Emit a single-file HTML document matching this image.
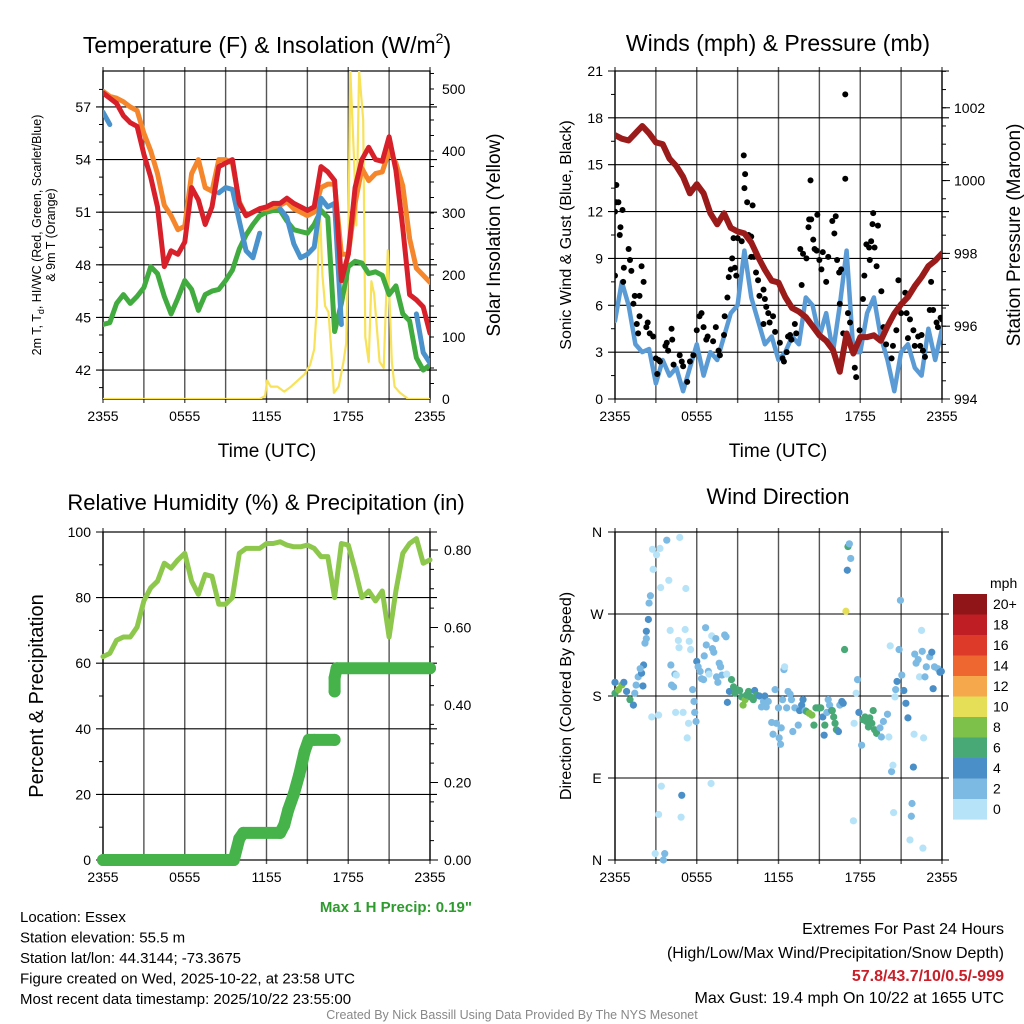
<!DOCTYPE html>
<html><head><meta charset="utf-8"><title>Essex Mesonet Meteogram</title>
<style>
html,body{margin:0;padding:0;background:#fff;}
svg{display:block;font-family:"Liberation Sans",Arial,sans-serif;}
</style></head>
<body>
<svg id="chart" width="1024" height="1024" viewBox="0 0 1024 1024" xmlns="http://www.w3.org/2000/svg">
<defs>
<clipPath id="c1"><rect x="103" y="71" width="327" height="328"/></clipPath>
<clipPath id="c2"><rect x="615" y="71" width="327" height="328"/></clipPath>
<clipPath id="c3"><rect x="97" y="526" width="340" height="340"/></clipPath>
<clipPath id="c4"><rect x="611" y="528" width="335" height="336"/></clipPath>
</defs>
</svg>
<script>
// ---------- Temperature panel data (half-hourly, hours since 2355 UTC) ----------
const tempHours = [0,0.5,1,1.5,2,2.5,3,3.5,4,4.5,5,5.5,6,6.5,7,7.5,8,8.5,9,9.5,10,10.5,11,11.5,12,12.5,13,13.5,14,14.5,15,15.5,16,16.5,17,17.5,18,18.5,19,19.5,20,20.5,21,21.5,22,22.5,23,23.5,24];
const tempT = [57.8,57.5,57.2,56.5,56.1,55.9,54.3,53,51.3,47.9,48.8,48.6,49.3,52.4,51.7,50.3,51.3,53.6,53.8,54,51.5,50.8,51,51.2,51.3,51.5,51.5,51.8,51.5,51.3,51.1,51.3,53.6,53.3,52.8,47.1,48.6,52.4,54,54.7,54,53.9,55.3,53.4,50.1,46.3,46,45.6,44.1];
const temp9m = [57.9,57.6,57.5,57.3,57,56.8,55.5,54.5,53.2,51.4,50.8,50,50.2,53.2,54,52.4,52.2,54,54,53.8,51.6,50.8,51,51.2,51.2,51.3,51.4,51.6,51.2,51,50.8,51,52.4,52.6,52.6,48.6,48.6,51.5,53.5,52.8,53.2,53.3,54.5,53.8,52.5,49.5,47.8,47.4,47];
const tempTd = [44.6,44.7,45.8,46.3,45.8,46.2,46.7,47.9,47.5,46.2,45.2,46.1,47.1,46.6,45.4,46.3,46.5,46.6,47.1,47.7,48.9,49.7,50.3,50.8,51,51.1,51.1,50.5,50,49.9,49.8,50.3,51.1,50.7,44.2,45.8,47.9,48.2,48.1,47.5,47.6,47.4,46.3,46.8,45.2,44.8,42.7,42,42.3];
const tempHIWC = [56.7,56.0,null,null,null,null,null,null,null,null,null,null,null,null,null,null,null,52.1,52.4,52.3,50.5,48.8,48.4,49.8,null,null,51.2,50.7,49.2,48.4,48.6,49,51.8,51.3,51.5,44.6,null,null,null,null,null,null,null,null,null,null,45.2,43.0,42.4];
const solarHours = [0,11.5,11.9,12.05,12.3,12.8,13.3,13.8,14.3,14.8,15.2,15.5,15.7,15.9,16.1,16.3,16.55,16.75,16.95,17.3,17.65,17.85,18.0,18.15,18.4,18.6,18.8,19.1,19.25,19.5,19.7,19.9,20.3,20.6,20.9,21.2,21.4,21.8,22.4,24];
const solarVals = [0,0,5,30,20,20,12,20,30,40,55,80,150,320,200,150,140,80,10,20,60,90,250,530,400,280,530,450,100,60,190,170,60,50,240,60,20,10,0,0];
const tempTicks = [42,45,48,51,54,57];
const solarTicks = [0,100,200,300,400,500];
const timeTickLabels = ["2355","0555","1155","1755","2355"];
const timeTickHours = [0,6,12,18,24];

// ---------- Wind / pressure panel data ----------
const windHours = tempHours;
const windSpeed = [5,7.5,6,3.5,3,3.2,1,2.5,1.5,2,0.5,2,3.5,1.5,3,2.5,4,5.5,6,9.5,6.5,5,3.5,4,2.5,3,4,3.5,6.5,6,4,5.5,3,6,9.5,3,3,5.5,6.5,4,2.5,0.5,3,3.5,2,1.5,4.5,2.5,4.5];
const pressure = [1001.25,1001.15,1001.1,1001.3,1001.5,1001.3,1001.05,1001,1000.6,1000.4,1000.1,999.65,999.9,999.65,999.1,998.8,999.1,998.7,998.6,998.55,998.3,997.9,997.55,997.25,997.2,996.8,996.5,996.4,996.25,996,995.75,995.6,995.35,994.75,995.8,995.25,995.7,995.7,995.75,995.6,996,996.35,996.6,996.8,997.1,997.35,997.65,997.8,998];
const gustHours = [0,0,0.1,0.1,0.25,0.35,0.4,0.55,0.65,0.6,1.0,1.1,1.2,1.45,1.35,1.8,1.95,2.1,1.8,1.6,1.7,2.4,2.3,2.55,2.8,3.0,3.2,3.1,3.3,3.7,3.8,3.9,4.15,4.2,4.3,4.75,4.9,5.0,5.3,5.5,5.75,6.0,6.2,6.35,6.5,6.7,6.8,7.2,7.4,7.6,7.7,8.0,8.05,8.25,8.35,8.5,8.6,8.8,8.9,8.7,9.0,9.3,9.45,9.55,9.5,9.7,10.1,9.8,10.0,10.0,10.2,10.35,10.5,10.6,10.9,11.0,11.1,11.25,11.35,11.6,10.9,11.75,12.1,12.3,12.4,12.6,12.7,12.85,12.95,13.2,13.3,13.6,13.7,13.8,14.05,14.2,14.25,14.35,14.4,14.55,14.65,14.85,14.8,15.0,15.15,15.25,15.5,15.65,15.95,16.1,16.2,16.3,16.45,16.6,16.5,16.9,16.9,16.75,17.1,17.25,17.6,17.7,17.95,18.2,18.3,18.45,18.65,18.7,18.8,18.95,18.9,19.05,19.3,19.2,19.55,19.7,19.9,20.3,20.4,20.65,20.8,21.0,21.3,21.4,21.65,21.5,21.9,22.0,22.25,22.5,22.4,22.6,22.75,23.1,23.2,23.35,23.6,23.7,23.9,24.0];
const gustVals = [7.9,12,13.7,12.6,12.6,10.5,11,12.1,8.4,7.5,9.6,8.9,8.2,6.6,6.1,6.6,8.5,7.5,5.3,4.8,4.2,4.9,4.6,4.2,4.0,2.6,2.5,1.6,2.4,3.4,3.6,3.1,4.5,3.8,2.2,2.8,2.4,2.1,1.1,2.4,2.8,4.4,5.3,5.5,4.6,3.8,4.0,3.7,4.6,3.1,2.8,4.1,5.3,6.5,7.8,8.3,9.0,8.4,7.9,10.3,10.3,10.1,15.6,14.4,13.5,12.6,12.4,10.5,10.4,9.1,9.1,8.1,7.6,6.6,7.0,6.4,5.9,5.5,4.9,5.3,4.8,4.3,3.6,2.6,2.4,3.0,4.0,4.1,3.8,4.8,4.2,9.6,7.3,9.3,9.0,11.0,11.5,14.0,11.5,10.2,9.6,11.8,9.5,8.9,8.3,9.4,7.5,9.1,11.4,10.6,11.7,8.9,8.1,8.3,6.1,19.5,14.1,4.2,5.5,4.9,2.0,1.4,4.4,6.4,7.9,9.9,9.7,8.9,10.1,11.9,11.2,9.7,11.1,8.5,6.9,4.6,3.5,2.6,3.4,4.4,7.6,5.5,6.8,5.5,5.1,3.9,4.4,3.4,4.0,4.1,3.4,3.1,2.7,5.7,7.5,5.7,4.9,4.6,5.2,5.1];
const windTicks = [0,3,6,9,12,15,18,21];
const pressTicks = [994,996,998,1000,1002];

// ---------- RH / precip data ----------
const rhHours = tempHours;
const rhVals = [62,63,67,68,68,71,79,83,85,90.5,89,91.5,93.5,85,81,87,86.5,78,78,80,93.5,95,95,95,96.5,96.5,97,96,95.5,95.5,96,95,92.5,92.5,80,96.5,96,88.5,80,82,79,82,68,82,93.5,96.5,98,90.5,91.5];
const precipHours = [0,9.6,10.0,10.3,13.0,13.3,13.6,14.0,14.4,14.8,15.1,15.5,17.0,null,17.0,17.0,17.15,24];
const precipVals = [0,0,0.055,0.07,0.07,0.09,0.13,0.17,0.22,0.28,0.31,0.31,0.31,null,0.435,0.47,0.495,0.495];
const rhTicks = [0,20,40,60,80,100];
const precipTicks = ["0.00","0.20","0.40","0.60","0.80"];

// ---------- Wind direction data ----------
const dirHours = [0,0,0.25,0.5,0.65,0.85,1.1,1.35,1.45,1.55,1.7,1.95,2.1,2.05,1.85,2.2,2.3,2.3,2.45,2.5,2.6,2.7,2.8,2.75,3.05,3.3,3.2,3.35,3.4,3.2,2.95,3.55,3.65,3.8,3.95,4.05,4.1,4.15,4.3,4.4,4.5,4.45,4.65,4.7,4.75,4.9,4.85,5.0,5.15,5.2,5.3,5.4,5.45,5.55,5.7,5.8,5.85,5.95,6.0,6.1,6.25,6.35,6.5,6.55,6.65,6.7,6.85,6.9,7.05,7.1,7.15,7.25,7.4,7.45,7.55,7.65,7.75,7.85,8.05,8.15,8.2,8.25,8.4,8.55,8.7,8.8,8.95,9.15,9.3,9.4,9.55,9.65,9.8,9.95,10.15,10.25,10.4,10.6,10.75,10.9,11.0,11.1,11.25,11.5,11.6,11.75,11.85,12.0,12.05,12.15,12.2,12.3,12.4,12.45,12.6,12.7,12.85,12.95,13.05,13.2,13.45,13.55,13.7,13.8,13.95,14.05,14.25,14.45,14.6,14.75,14.9,15.1,15.25,15.35,15.4,15.55,15.65,15.75,15.9,15.95,16.05,16.15,16.25,16.4,16.5,16.65,16.75,16.85,16.95,17.05,17.1,17.2,17.3,17.5,17.55,17.7,17.8,17.9,18.1,18.2,18.35,18.45,18.6,18.7,18.85,18.95,19.05,19.2,19.45,19.55,19.7,20.0,20.1,20.2,20.3,20.4,20.45,20.55,20.6,20.7,20.85,20.95,21.05,21.2,21.35,21.5,21.65,21.75,21.8,21.9,21.95,22.0,22.1,22.25,22.35,22.5,22.55,22.6,22.65,22.75,22.85,23.1,23.25,23.35,23.45,23.7,23.85,23.95];
const dirDeg = [195,183,187,192,195,185,176,170,183,192,201,205,214,191,210,238,251,243,264,282,290,157,319,341,335,342,159,299,81,50,7,0,7,351,307,252,214,192,190,204,203,162,241,233,354,71,47,162,253,298,134,150,240,231,187,174,162,152,218,212,207,199,198,224,255,236,207,204,84,246,232,228,243,201,195,216,212,203,247,245,204,173,185,198,190,183,187,186,179,170,176,181,185,179,176,186,181,180,168,174,180,168,174,151,138,187,150,167,134,127,145,176,209,212,167,185,182,176,141,167,148,164,170,176,164,163,161,159,148,167,167,167,157,137,148,162,176,170,164,164,157,150,143,141,170,174,172,231,273,318,344,347,331,43,150,183,198,162,126,154,157,152,146,156,150,164,143,139,145,135,152,160,135,235,97,104,52,179,187,196,231,285,203,186,172,156,22,48,62,102,138,226,216,220,201,252,229,13,134,201,212,223,228,188,212,210,206,207];
const dirSpeed = [5,7,9,9,5,5,7,5,3,3,3,5,5,5,3,3,5,3,5,3,3,1,1,1,1,1,1,1,1,1,1,3,3,3,1,1,3,3,3,3,1,1,1,1,1,5,1,1,1,1,1,1,1,1,3,3,3,3,5,3,3,3,3,3,3,3,3,1,1,1,3,3,3,3,3,3,3,3,3,3,1,5,5,7,7,7,7,7,7,9,9,7,7,7,7,5,7,5,3,3,5,3,3,3,3,3,3,3,3,3,3,3,3,1,3,3,3,3,3,3,3,5,5,5,3,7,9,9,7,7,7,7,5,5,7,3,3,3,5,7,7,7,7,5,3,5,5,7,11,5,7,3,3,1,1,1,3,5,3,7,7,7,7,7,7,7,7,7,3,3,3,3,1,1,3,1,1,1,3,5,3,3,3,5,5,5,1,3,3,5,1,3,3,3,1,1,3,1,1,3,3,3,5,5,3,3,5,5];
const dirTickLabels = ["N","E","S","W","N"];
const dirTickDeg = [0,90,180,270,360];
const speedBinLabels = ["20+","18","16","14","12","10","8","6","4","2","0"];
const speedBinColors = ["#8f1518","#be1e24","#dd3a2a","#ee6630","#f5a94c","#e5df58","#7dc14a","#48a876","#4a8fc7","#7cb9e3","#b7e3f8"];

// ---------- helpers ----------
const NS = "http://www.w3.org/2000/svg";
const svg = document.getElementById("chart");
function el(tag, attrs, parent) {
  const e = document.createElementNS(NS, tag);
  for (const k in attrs) e.setAttribute(k, attrs[k]);
  (parent || svg).appendChild(e);
  return e;
}
function txt(s, x, y, size, anchor, parent, extra) {
  const t = el("text", Object.assign({x: x, y: y, "font-size": size, "text-anchor": anchor || "middle", fill: "#000"}, extra || {}), parent);
  t.textContent = s;
  return t;
}
function lin(d0, d1, p0, p1) { return v => p0 + (v - d0) / (d1 - d0) * (p1 - p0); }
function pathFrom(xs, ys, fx, fy) {
  let d = "", pen = false;
  for (let i = 0; i < xs.length; i++) {
    if (xs[i] === null || ys[i] === null) { pen = false; continue; }
    d += (pen ? "L" : "M") + fx(xs[i]).toFixed(1) + "," + fy(ys[i]).toFixed(1);
    pen = true;
  }
  return d;
}
function grid(g, P, hLines, fy) {
  for (let k = 0; k <= 8; k++) {
    const x = P.x0 + k * (P.x1 - P.x0) / 8;
    el("line", {x1: x, y1: P.y0 - 4, x2: x, y2: P.y1 + 4, stroke: "#555", "stroke-width": 1.4}, g);
  }
  hLines.forEach(v => {
    const y = fy(v);
    el("line", {x1: P.x0 - 7, y1: y, x2: P.x1 + 7, y2: y, stroke: "#000", "stroke-width": 1.1}, g);
  });
  el("rect", {x: P.x0, y: P.y0, width: P.x1 - P.x0, height: P.y1 - P.y0, fill: "none", stroke: "#000", "stroke-width": 1.2}, g);
}
function timeAxis(g, P, fx) {
  timeTickHours.forEach((h, i) => {
    const lab = txt(timeTickLabels[i], fx(h), P.y1 + 22, 14, "middle", g);
    
    
  });
}

// ================= Panel 1: Temperature =================
const P1 = {x0: 103, x1: 430, y0: 71, y1: 399};
const fx1 = lin(0, 24, P1.x0, P1.x1);
const fyT = lin(40.35, 59.05, P1.y1, P1.y0);
const fyS = lin(0, 529, P1.y1, P1.y0);
const g1 = el("g", {});


grid(g1, P1, tempTicks, fyT);
for (let v = 41; v <= 58; v++) {
  const m = el("line", {x1: P1.x0 - 4, y1: fyT(v), x2: P1.x0, y2: fyT(v), stroke: "#000"}, g1);
  
  
}
for (let v = 25; v <= 525; v += 25) {
  el("line", {x1: P1.x1, y1: fyS(v), x2: P1.x1 + 4, y2: fyS(v), stroke: "#000"}, g1);
}
tempTicks.forEach(v => { const t = txt(String(v), P1.x0 - 12, fyT(v) + 5, 14, "end", g1);   });
solarTicks.forEach(v => { const t = txt(String(v), P1.x1 + 12, fyS(v) + 5, 14, "start", g1);   });
timeAxis(g1, P1, fx1);
const s1 = el("g", {"clip-path": "url(#c1)"}, g1);
const solarLine = el("path", {d: pathFrom(solarHours, solarVals, fx1, fyS), fill: "none", stroke: "#f7e25a", "stroke-width": 2.2, "stroke-linejoin": "round"}, s1);


const lineStyle = {fill: "none", "stroke-width": 5, "stroke-linejoin": "round", "stroke-linecap": "round"};
const tdLine = el("path", Object.assign({d: pathFrom(tempHours, tempTd, fx1, fyT), stroke: "#41ab3f"}, lineStyle), s1);


const t9Line = el("path", Object.assign({d: pathFrom(tempHours, temp9m, fx1, fyT), stroke: "#f5862c"}, lineStyle), s1);


const hiLine = el("path", Object.assign({d: pathFrom(tempHours, tempHIWC, fx1, fyT), stroke: "#4a92cc"}, lineStyle), s1);


const tLine = el("path", Object.assign({d: pathFrom(tempHours, tempT, fx1, fyT), stroke: "#d7202a"}, lineStyle), s1);


const ti1 = el("text", {x: 267, y: 53, "font-size": 23, "text-anchor": "middle"}, g1);
ti1.innerHTML = 'Temperature (F) &amp; Insolation (W/m<tspan font-size="14" dy="-10">2</tspan><tspan dy="10">)</tspan>';


const xl1 = txt("Time (UTC)", 267, 457, 19, "middle", g1);


const yl1 = el("text", {x: 0, y: 0, "font-size": 12.5, "text-anchor": "middle", transform: "translate(41,235) rotate(-90)"}, g1);
yl1.innerHTML = '2m T, T<tspan font-size="9" dy="3">d</tspan><tspan dy="-3">, HI/WC (Red, Green, Scarlet/Blue)</tspan>';


const yl1b = txt("& 9m T (Orange)", 0, 0, 12.5, "middle", g1, {transform: "translate(55,235) rotate(-90)"});


const yr1 = txt("Solar Insolation (Yellow)", 0, 0, 19, "middle", g1, {transform: "translate(500,235) rotate(-90)"});



// ================= Panel 2: Winds & Pressure =================
const P2 = {x0: 615, x1: 942, y0: 71, y1: 399};
const fx2 = lin(0, 24, P2.x0, P2.x1);
const fyW = lin(0, 21, P2.y1, P2.y0);
const fyP = lin(994, 1003.01, P2.y1, P2.y0);
const g2 = el("g", {});


grid(g2, P2, windTicks, fyW);
for (let v = 1.5; v < 21; v += 3) el("line", {x1: P2.x0 - 4, y1: fyW(v), x2: P2.x0, y2: fyW(v), stroke: "#000"}, g2);
for (let v = 994.5; v <= 1003; v += 0.5) el("line", {x1: P2.x1, y1: fyP(v), x2: P2.x1 + 4, y2: fyP(v), stroke: "#000"}, g2);
pressTicks.forEach(v => el("line", {x1: P2.x1, y1: fyP(v), x2: P2.x1 + 8, y2: fyP(v), stroke: "#000"}, g2));
windTicks.forEach(v => { const t = txt(String(v), P2.x0 - 12, fyW(v) + 5, 14, "end", g2);   });
pressTicks.forEach(v => { const t = txt(String(v), P2.x1 + 12, fyP(v) + 5, 14, "start", g2);   });
timeAxis(g2, P2, fx2);
const s2 = el("g", {"clip-path": "url(#c2)"}, g2);
const wLine = el("path", Object.assign({d: pathFrom(windHours, windSpeed, fx2, fyW), stroke: "#5b9bd5"}, lineStyle, {"stroke-width": 4.5}), s2);


for (let i = 0; i < gustHours.length; i++) {
  const c = el("circle", {cx: fx2(gustHours[i]), cy: fyW(gustVals[i]), r: 3, fill: "#000"}, s2);
  
  
}
const pLine = el("path", Object.assign({d: pathFrom(windHours, pressure, fx2, fyP), stroke: "#9b1a1a"}, lineStyle, {"stroke-width": 6}), s2);


const ti2 = txt("Winds (mph) & Pressure (mb)", 778, 51, 23, "middle", g2);


const xl2 = txt("Time (UTC)", 778, 457, 19, "middle", g2);


const yl2 = txt("Sonic Wind & Gust (Blue, Black)", 0, 0, 16, "middle", g2, {transform: "translate(571,235) rotate(-90)"});


const yr2 = txt("Station Pressure (Maroon)", 0, 0, 19, "middle", g2, {transform: "translate(1020,235) rotate(-90)"});



// ================= Panel 3: RH & Precip =================
const P3 = {x0: 103, x1: 430, y0: 532, y1: 860};
const fx3 = lin(0, 24, P3.x0, P3.x1);
const fyR = lin(0, 100, P3.y1, P3.y0);
const fyQ = lin(0, 0.8, P3.y1, 550);
const g3 = el("g", {});


grid(g3, P3, rhTicks, fyR);
for (let v = 10; v < 100; v += 20) el("line", {x1: P3.x0 - 4, y1: fyR(v), x2: P3.x0, y2: fyR(v), stroke: "#000"}, g3);
for (let v = 0; v <= 0.82; v += 0.05) el("line", {x1: P3.x1, y1: fyQ(v), x2: P3.x1 + (Math.abs(v * 10 % 2) < 0.01 ? 8 : 4), y2: fyQ(v), stroke: "#000"}, g3);
rhTicks.forEach(v => { const t = txt(String(v), P3.x0 - 12, fyR(v) + 5, 14, "end", g3);   });
precipTicks.forEach(s => { const t = txt(s, P3.x1 + 14, fyQ(parseFloat(s)) + 5, 14, "start", g3);   });
timeAxis(g3, P3, fx3);
const s3 = el("g", {"clip-path": "url(#c3)"}, g3);
const rhLine = el("path", Object.assign({d: pathFrom(rhHours, rhVals, fx3, fyR), stroke: "#8dc84d"}, lineStyle, {"stroke-width": 5}), s3);


const prLine = el("path", {d: pathFrom(precipHours, precipVals, fx3, fyQ), fill: "none", stroke: "#46b34a", "stroke-width": 12, "stroke-linecap": "round", "stroke-linejoin": "round"}, s3);


for (let i = 0; i < precipHours.length; i++) {
  if (precipHours[i] === null) continue;
  const c = el("circle", {cx: fx3(precipHours[i]), cy: fyQ(precipVals[i]), r: 6, fill: "#46b34a"}, s3);
  
  
}
const ti3 = txt("Relative Humidity (%) & Precipitation (in)", 266, 510, 22, "middle", g3);


const yl3 = txt("Percent & Precipitation", 0, 0, 20, "middle", g3, {transform: "translate(43,696) rotate(-90)"});


const mp = txt('Max 1 H Precip: 0.19"', 472, 912, 15, "end", g3, {fill: "#2e9b2e", "font-weight": "bold"});



// ================= Panel 4: Wind Direction =================
const P4 = {x0: 615, x1: 942, y0: 532, y1: 860};
const fx4 = lin(0, 24, P4.x0, P4.x1);
const fyD = lin(0, 360, P4.y1, P4.y0);
const g4 = el("g", {});


grid(g4, P4, dirTickDeg, fyD);
dirTickDeg.forEach((v, i) => { const t = txt(dirTickLabels[i], P4.x0 - 18, fyD(v) + 5, 14, "middle", g4);   });
timeAxis(g4, P4, fx4);
const s4 = el("g", {"clip-path": "url(#c4)"}, g4);
function speedColor(s) {
  const bin = Math.min(10, Math.floor(s / 2));
  return speedBinColors[10 - bin];
}
for (let i = 0; i < dirHours.length; i++) {
  const c = el("circle", {cx: fx4(dirHours[i]), cy: fyD(dirDeg[i]), r: 3.6, fill: speedColor(dirSpeed[i])}, s4);
  
  
}
const ti4 = txt("Wind Direction", 778, 504, 22, "middle", g4);


const yl4 = txt("Direction (Colored By Speed)", 0, 0, 16, "middle", g4, {transform: "translate(571,696) rotate(-90)"});


const cb = el("g", {}, g4);


const cbu = txt("mph", 990, 588, 14, "start", cb);


speedBinLabels.forEach((lab, i) => {
  const y = 594 + i * 20.5;
  const r = el("rect", {x: 953, y: y, width: 34, height: 20.6, fill: speedBinColors[i]}, cb);
  
  
  const t = txt(lab, 993, y + 15, 14, "start", cb);
  
  
});

// ================= Footer text =================
const foot = el("g", {});


["Location: Essex","Station elevation: 55.5 m","Station lat/lon: 44.3144; -73.3675","Figure created on Wed, 2025-10-22, at 23:58 UTC","Most recent data timestamp: 2025/10/22 23:55:00"].forEach((s, i) => {
  const t = txt(s, 20, 922 + i * 20.5, 15, "start", foot);
  
  
});
const ext = el("g", {});


const e1 = txt("Extremes For Past 24 Hours", 1004, 934, 16, "end", ext);


const e2 = txt("(High/Low/Max Wind/Precipitation/Snow Depth)", 1004, 958, 16, "end", ext);


const e3 = txt("57.8/43.7/10/0.5/-999", 1004, 981, 16, "end", ext, {fill: "#c8202a", "font-weight": "bold"});


const e4 = txt("Max Gust: 19.4 mph On 10/22 at 1655 UTC", 1004, 1003, 16, "end", ext);


const cr = txt("Created By Nick Bassill Using Data Provided By The NYS Mesonet", 512, 1019, 12.5, "middle", null, {fill: "#888"});


</script>
</body></html>
